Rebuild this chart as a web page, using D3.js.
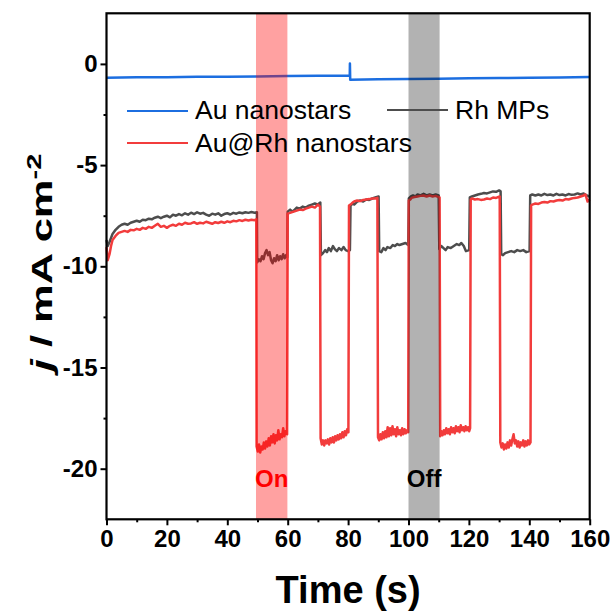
<!DOCTYPE html>
<html>
<head>
<meta charset="utf-8">
<script src="https://cdn.jsdelivr.net/npm/d3@7"></script>
<style>
  html, body { margin: 0; padding: 0; background: #fff; }
  svg { display: block; font-family: "Liberation Sans", Arial, sans-serif; }
</style>
</head>
<body>
<svg id="chart" width="614" height="612"></svg>
<script>
// Chopped-light chronoamperometry: current density j (mA cm^-2) vs time (s)

// Au nanostars: [time, j]
const auStars = [
  [0, -0.68], [10, -0.66], [20, -0.66], [30, -0.64], [40, -0.63], [50, -0.62],
  [60, -0.60], [70, -0.59], [80.55, -0.57], [80.6, 0.02], [80.7, -0.78],
  [90, -0.76], [100, -0.74], [110, -0.73], [120, -0.71], [130, -0.70],
  [140, -0.68], [150, -0.67], [160, -0.65]
];

// Rh MPs: [time, j]
const rhMPs = [
  [0, -8.7], [0.4, -9.0], [1, -8.8], [2, -8.4], [3, -8.2], [4, -8.05], [5, -7.95], [6, -7.9],
  [7, -7.95], [8, -7.85], [9, -7.8], [10, -7.75], [11, -7.8], [12, -7.7], [13, -7.72], [14, -7.65],
  [15, -7.68], [16, -7.6], [17, -7.55], [18, -7.62], [19, -7.55], [20, -7.5], [21, -7.58], [22, -7.45],
  [23, -7.5], [24, -7.42], [25, -7.48], [26, -7.38], [27, -7.45], [28, -7.35], [29, -7.42], [30, -7.33],
  [31, -7.4], [32, -7.36], [33, -7.45], [34, -7.5], [35, -7.4], [36, -7.45], [37, -7.38], [38, -7.5],
  [39, -7.42], [40, -7.38], [41, -7.44], [42, -7.36], [43, -7.4], [44, -7.34], [45, -7.38], [46, -7.33],
  [47, -7.36], [48, -7.32], [49, -7.35], [49.8, -7.33],
  [49.9, -9.8], [50.5, -9.65], [51.0, -9.75], [51.5, -9.5], [52, -9.65], [52.5, -9.35], [53, -9.2],
  [53.5, -9.45], [54, -9.3], [54.5, -9.7], [55, -9.85], [55.5, -9.6], [56, -9.75], [56.5, -9.45],
  [57, -9.7], [57.5, -9.5], [58, -9.65], [58.5, -9.4], [59, -9.6], [59.5, -9.45], [59.9, -9.55],
  [60.0, -7.3], [60.8, -7.2], [61.5, -7.3], [62, -7.25], [63, -7.1], [64, -7.15], [65, -7.05],
  [66, -7.1], [67, -7.0], [68, -6.95], [69, -6.9], [70, -6.95], [70.8, -6.85],
  [71.0, -9.45], [71.7, -9.35], [72.4, -9.2], [73, -9.3], [73.6, -9.1], [74.3, -9.25], [75, -9.0],
  [75.6, -9.15], [76.3, -9.25], [77, -9.1], [77.8, -9.2], [78.5, -9.05], [79.2, -9.2], [80, -9.25],
  [80.6, -9.2],
  [80.8, -7.0], [81.5, -6.9], [82, -6.95], [83, -6.8], [84, -6.75], [85, -6.8], [86, -6.7],
  [87, -6.72], [88, -6.65], [89, -6.6], [90.1, -6.55],
  [90.3, -9.25], [91, -9.3], [91.7, -9.1], [92.4, -9.2], [93, -9.05], [94, -9.1], [94.8, -8.95],
  [95.5, -9.0], [96.3, -8.9], [97, -8.95], [98, -8.9], [99, -8.85], [99.9, -8.95],
  [100.1, -6.65], [100.8, -6.55], [101.5, -6.5], [102.3, -6.55], [103, -6.45], [104, -6.5],
  [105, -6.42], [106, -6.5], [107, -6.45], [108, -6.5], [109, -6.45], [110, -6.5],
  [110.2, -9.15], [110.9, -9.0], [111.6, -9.1], [112.3, -9.2], [113, -9.05], [114, -9.1],
  [115, -9.0], [116, -8.9], [116.8, -8.95], [117.5, -8.85], [118.3, -9.0], [119, -9.25], [120.1, -9.2],
  [120.3, -6.6], [121, -6.55], [122, -6.5], [123, -6.45], [124, -6.42], [125, -6.38], [126, -6.4],
  [127, -6.35], [128, -6.3], [129, -6.32], [130, -6.25], [130.5, -6.3],
  [130.7, -9.4], [131.3, -9.45], [132, -9.35], [133, -9.3], [134, -9.25], [135, -9.3], [136, -9.2],
  [137, -9.25], [138, -9.2], [139, -9.3], [140.1, -9.25],
  [140.3, -6.5], [141, -6.45], [142, -6.5], [143, -6.45], [144, -6.5], [145, -6.42], [146, -6.48],
  [147, -6.45], [148, -6.5], [149, -6.42], [150, -6.48], [151, -6.45], [152, -6.5], [153, -6.43],
  [154, -6.47], [155, -6.45], [156, -6.4], [157, -6.45], [158, -6.4], [159, -6.5], [160, -6.55]
];

// Au@Rh nanostars: [time, j]
const auRh = [
  [0, -9.05], [0.4, -9.7], [1, -9.4], [1.5, -9.0], [2, -8.7], [3, -8.5], [4, -8.35], [5, -8.3],
  [6, -8.25], [7, -8.3], [8, -8.2], [9, -8.22], [10, -8.15], [11, -8.2], [12, -8.1], [13, -8.15],
  [14, -8.05], [15, -8.1], [16, -8.0], [17, -7.9], [18, -8.05], [19, -8.0], [20, -8.1], [21, -8.0],
  [22, -7.95], [23, -8.0], [24, -7.9], [25, -7.95], [26, -7.85], [27, -7.9], [28, -7.88], [29, -7.82],
  [30, -7.9], [31, -7.85], [32, -7.88], [33, -7.8], [34, -7.85], [35, -7.9], [36, -7.82], [37, -7.86],
  [38, -7.8], [39, -7.85], [40, -7.78], [41, -7.82], [42, -7.75], [43, -7.78], [44, -7.72], [45, -7.76],
  [46, -7.7], [47, -7.74], [48, -7.7], [49, -7.72], [49.6, -7.68],
  [49.7, -18.9], [50.1, -19.15], [50.5, -18.8], [50.9, -19.2], [51.3, -18.9], [51.7, -19.05],
  [52.1, -18.7], [52.5, -19.0], [52.9, -18.65], [53.3, -18.9], [53.7, -18.5], [54.1, -18.85],
  [54.5, -18.4], [54.9, -18.7], [55.3, -18.3], [55.7, -18.75], [56.1, -18.35], [56.5, -18.6],
  [56.9, -18.1], [57.3, -18.55], [57.7, -18.3], [58.1, -18.45], [58.5, -18.0], [58.9, -18.4],
  [59.3, -18.15], [59.8, -18.3],
  [60.0, -7.4], [61, -7.35], [62, -7.3], [63, -7.25], [64, -7.2], [65, -7.22], [66, -7.15],
  [67, -7.1], [68, -7.05], [69, -7.1], [70, -6.95], [70.7, -7.05],
  [70.9, -18.5], [71.3, -18.8], [71.7, -18.6], [72.1, -18.85], [72.5, -18.6], [72.9, -18.75],
  [73.3, -18.55], [73.7, -18.8], [74.1, -18.5], [74.5, -18.7], [74.9, -18.45], [75.3, -18.7],
  [75.7, -18.4], [76.1, -18.6], [76.5, -18.35], [76.9, -18.55], [77.3, -18.3], [77.7, -18.5],
  [78.1, -18.2], [78.5, -18.45], [78.9, -18.15], [79.3, -18.35], [79.7, -18.05], [80.1, -18.2],
  [80.3, -7.0], [80.8, -6.95], [81.5, -6.85], [82, -6.8], [83, -6.75], [84, -6.78], [85, -6.72],
  [86, -6.7], [87, -6.68], [88, -6.65], [89, -6.65], [89.7, -6.62],
  [89.9, -18.45], [90.3, -18.6], [90.7, -18.3], [91.1, -18.55], [91.5, -18.2], [91.9, -18.5],
  [92.3, -18.15], [92.7, -18.45], [93.1, -17.95], [93.5, -18.4], [93.9, -18.0], [94.3, -18.35],
  [94.7, -17.9], [95.1, -18.3], [95.5, -18.05], [95.9, -18.4], [96.3, -17.95], [96.7, -18.3],
  [97.1, -18.1], [97.5, -18.35], [97.9, -18.0], [98.3, -18.3], [98.7, -18.05], [99.1, -18.25],
  [99.5, -18.1], [99.9, -18.2],
  [100.1, -6.75], [100.6, -6.7], [101, -6.62], [102, -6.58], [103, -6.55], [104, -6.52], [105, -6.5],
  [106, -6.55], [107, -6.5], [108, -6.55], [109, -6.52], [110.3, -6.6],
  [110.5, -18.4], [110.9, -18.15], [111.3, -18.35], [111.7, -18.1], [112.1, -18.3], [112.5, -18.0],
  [112.9, -18.25], [113.3, -18.05], [113.7, -18.3], [114.1, -17.95], [114.5, -18.2], [114.9, -18.0],
  [115.3, -18.25], [115.7, -17.9], [116.1, -18.15], [116.5, -17.95], [116.9, -18.2], [117.3, -17.85],
  [117.7, -18.1], [118.1, -17.95], [118.5, -18.15], [118.9, -17.9], [119.3, -18.1], [119.7, -17.95],
  [120.1, -18.15], [120.4, -18.0],
  [120.6, -6.7], [121, -6.65], [122, -6.7], [123, -6.68], [124, -6.72], [125, -6.7], [126, -6.65],
  [127, -6.68], [128, -6.6], [129, -6.62], [130.2, -6.55],
  [130.4, -18.7], [130.8, -18.95], [131.2, -18.75], [131.6, -19.05], [132.0, -18.8], [132.4, -19.0],
  [132.8, -18.7], [133.2, -18.95], [133.6, -18.6], [134.0, -18.85], [134.4, -18.55], [134.8, -18.3],
  [135.2, -18.75], [135.6, -18.6], [136.0, -18.9], [136.4, -18.65], [136.8, -18.95], [137.2, -18.7],
  [137.6, -18.85], [138.0, -18.6], [138.4, -18.9], [138.8, -18.65], [139.2, -18.85], [139.6, -18.6],
  [140.0, -18.8], [140.4, -18.7],
  [140.6, -7.0], [141, -6.95], [142, -6.9], [143, -6.92], [144, -6.85], [145, -6.82], [146, -6.85],
  [147, -6.78], [148, -6.8], [149, -6.75], [150, -6.72], [151, -6.75], [152, -6.68], [153, -6.7],
  [154, -6.65], [155, -6.62], [156, -6.6], [157, -6.55], [158, -6.5], [158.6, -6.45], [159.3, -6.8],
  [160, -6.7]
];

// Illumination windows highlighted on the plot: [start, end, label]
const onWindow = [49.5, 59.9, "On"];
const offWindow = [100, 110.3, "Off"];

// Axis ticks
const xMajorTicks = [0, 20, 40, 60, 80, 100, 120, 140, 160];
const xMinorTicks = [10, 30, 50, 70, 90, 110, 130, 150];
const yMajorTicks = [0, -5, -10, -15, -20];
const yMinorTicks = [-2.5, -7.5, -12.5, -17.5];

// Legend entries
const legendNames = ["Au nanostars", "Au@Rh nanostars", "Rh MPs"];

const colors = { au: "#1c6ee0", auRh: "#f23c3c", rh: "#4d4d4d" };

const svg = d3.select("#chart");
const plot = { left: 106.5, right: 589.7, top: 13.3, bottom: 519.3 };

const x = d3.scaleLinear().domain([0, 160]).range([plot.left, plot.right]);
const y = d3.scaleLinear().domain([-22.5, 2.5]).range([plot.bottom, plot.top]);

const line = d3.line().x(d => x(d[0])).y(d => y(d[1]));

// Data traces
svg.append("path").datum(rhMPs).attr("d", line)
  .attr("fill", "none").attr("stroke", colors.rh).attr("stroke-width", 2.5).attr("stroke-linejoin", "round");
svg.append("path").datum(auRh).attr("d", line)
  .attr("fill", "none").attr("stroke", colors.auRh).attr("stroke-width", 2.5).attr("stroke-linejoin", "round");
svg.append("path").datum(auStars).attr("d", line)
  .attr("fill", "none").attr("stroke", colors.au).attr("stroke-width", 2.5).attr("stroke-linejoin", "round");

// Translucent light-on / light-off bands over the traces
svg.append("rect")
  .attr("x", x(onWindow[0])).attr("width", x(onWindow[1]) - x(onWindow[0]))
  .attr("y", plot.top).attr("height", plot.bottom - plot.top)
  .attr("fill", "rgb(255,0,0)").attr("fill-opacity", 0.37);
svg.append("rect")
  .attr("x", x(offWindow[0])).attr("width", x(offWindow[1]) - x(offWindow[0]))
  .attr("y", plot.top).attr("height", plot.bottom - plot.top)
  .attr("fill", "rgb(0,0,0)").attr("fill-opacity", 0.3);

svg.append("text")
  .attr("x", x((onWindow[0] + onWindow[1]) / 2)).attr("y", 487)
  .attr("text-anchor", "middle").attr("font-size", 24).attr("font-weight", "bold")
  .attr("fill", "#ff0000").text(onWindow[2]);
svg.append("text")
  .attr("x", x((offWindow[0] + offWindow[1]) / 2)).attr("y", 487)
  .attr("text-anchor", "middle").attr("font-size", 24).attr("font-weight", "bold")
  .attr("fill", "#000").text(offWindow[2]);

// Frame
svg.append("rect")
  .attr("x", plot.left).attr("y", plot.top)
  .attr("width", plot.right - plot.left).attr("height", plot.bottom - plot.top)
  .attr("fill", "none").attr("stroke", "#000").attr("stroke-width", 2.2);

// Bottom axis
const xAxis = svg.append("g").attr("transform", `translate(0,${plot.bottom})`)
  .call(d3.axisBottom(x).tickValues(xMajorTicks).tickSize(6).tickPadding(5).tickFormat(d => String(d)));
xAxis.select(".domain").remove();
xAxis.selectAll(".tick line").attr("stroke-width", 2);
xAxis.selectAll(".tick text")
  .attr("font-size", 24).attr("font-weight", "bold").attr("fill", "#000")
  .attr("font-family", "'Liberation Sans', Arial, sans-serif");
const xMinor = svg.append("g").attr("transform", `translate(0,${plot.bottom})`)
  .call(d3.axisBottom(x).tickValues(xMinorTicks).tickSize(3).tickFormat(""));
xMinor.select(".domain").remove();
xMinor.selectAll(".tick line").attr("stroke-width", 2);

// Left axis
const yAxis = svg.append("g").attr("transform", `translate(${plot.left},0)`)
  .call(d3.axisLeft(y).tickValues(yMajorTicks).tickSize(6).tickPadding(3).tickFormat(d => String(d)));
yAxis.select(".domain").remove();
yAxis.selectAll(".tick line").attr("stroke-width", 2);
yAxis.selectAll(".tick text")
  .attr("font-size", 24).attr("font-weight", "bold").attr("fill", "#000")
  .attr("font-family", "'Liberation Sans', Arial, sans-serif");
const yMinor = svg.append("g").attr("transform", `translate(${plot.left},0)`)
  .call(d3.axisLeft(y).tickValues(yMinorTicks).tickSize(3).tickFormat(""));
yMinor.select(".domain").remove();
yMinor.selectAll(".tick line").attr("stroke-width", 2);

// Axis titles
svg.append("text")
  .attr("x", (plot.left + plot.right) / 2).attr("y", 603)
  .attr("text-anchor", "middle").attr("font-size", 38).attr("font-weight", "bold")
  .text("Time (s)");

const yTitle = svg.append("text")
  .attr("transform", `translate(52,${(153 + 372) / 2}) rotate(-90) scale(1.45,1)`)
  .attr("text-anchor", "middle").attr("font-size", 30).attr("font-weight", "bold");
yTitle.append("tspan").attr("font-style", "italic").text("j");
yTitle.append("tspan").text(" / mA cm");
yTitle.append("tspan").attr("font-size", 20).attr("dy", -11).text("-2");

// Legend
const legendItems = [
  { name: legendNames[0], color: colors.au, x0: 127, ly: 111, ty: 119 },
  { name: legendNames[1], color: colors.auRh, x0: 127, ly: 143, ty: 151.5 },
  { name: legendNames[2], color: colors.rh, x0: 387, ly: 110, ty: 119 }
];
const legend = svg.append("g");
legendItems.forEach(item => {
  legend.append("line")
    .attr("x1", item.x0).attr("x2", item.x0 + 61)
    .attr("y1", item.ly).attr("y2", item.ly)
    .attr("stroke", item.color).attr("stroke-width", 2.2);
  legend.append("text")
    .attr("x", item.x0 + 68).attr("y", item.ty)
    .attr("font-size", 26.5).attr("fill", "#000")
    .text(item.name);
});
</script>
</body>
</html>
